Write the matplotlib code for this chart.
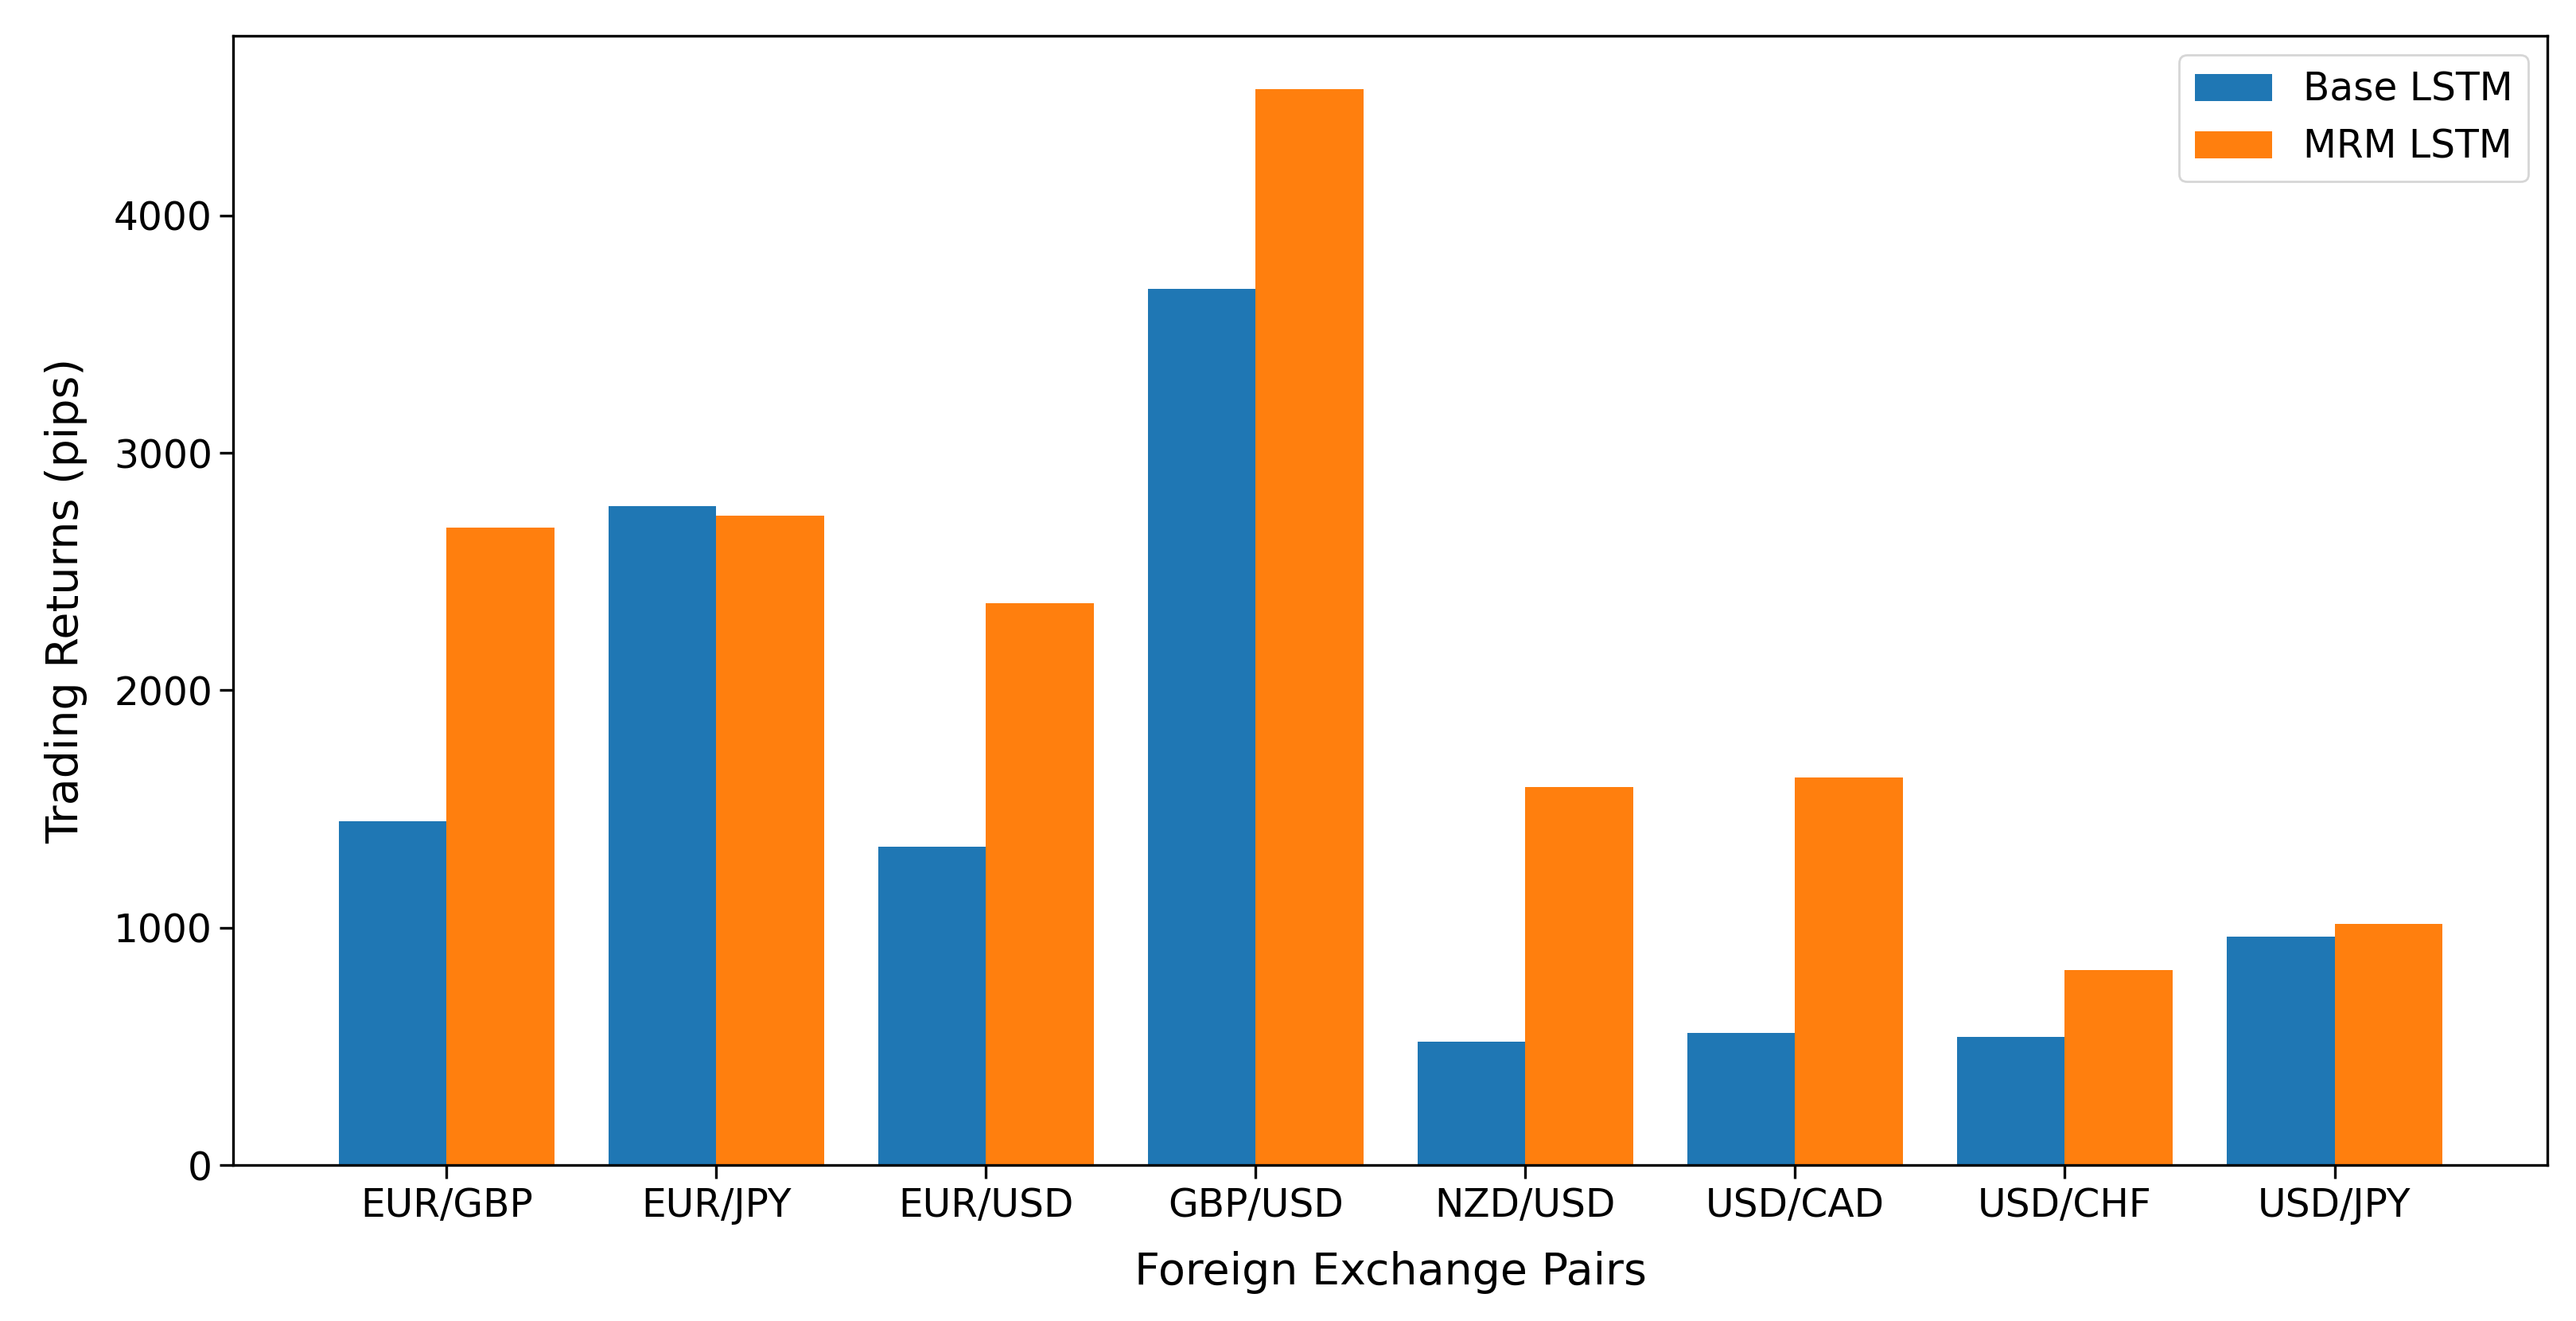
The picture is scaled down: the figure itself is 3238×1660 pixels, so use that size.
import numpy as np
import matplotlib
matplotlib.use("Agg")
import matplotlib.pyplot as plt

# ==============================
# DATA
# ==============================
pairs = ["EUR/GBP", "EUR/JPY", "EUR/USD", "GBP/USD",
         "NZD/USD", "USD/CAD", "USD/CHF", "USD/JPY"]
base_lstm = [1449, 2777, 1341, 3690, 519, 558, 539, 964]
mrm_lstm = [2685, 2736, 2368, 4531, 1594, 1633, 820, 1017]

# ==============================
# PLOT
# ==============================
x = np.arange(len(pairs))
width = 0.4

fig = plt.figure(figsize=(16.19, 8.3), dpi=200)
ax = fig.add_axes([0.0906, 0.118, 0.8984, 0.855])

ax.bar(x - width / 2, base_lstm, width, label="Base LSTM", color="#1f77b4")
ax.bar(x + width / 2, mrm_lstm, width, label="MRM LSTM", color="#ff7f0e")

ax.set_xticks(x)
ax.set_xticklabels(pairs)
ax.tick_params(axis="both", labelsize=17.5, length=6, width=1.2)
ax.set_xlabel("Foreign Exchange Pairs", fontsize=20, labelpad=12)
ax.set_ylabel("Trading Returns (pips)", fontsize=20, labelpad=12)
ax.legend(fontsize=17.5, loc="upper right")

for s in ax.spines.values():
    s.set_linewidth(1.2)

fig.savefig("out.png", dpi=200)
